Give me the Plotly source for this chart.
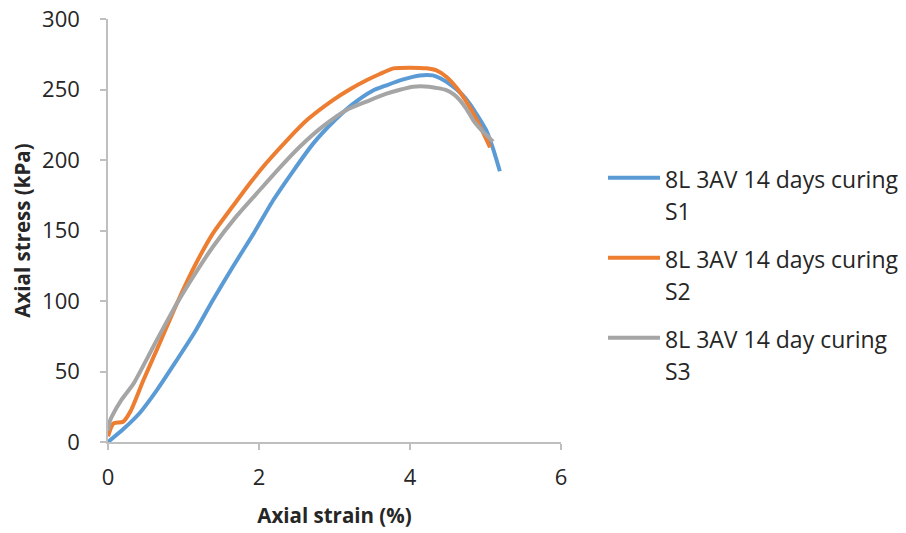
import plotly.graph_objects as go

# Series data (strain %, stress kPa)
s1_strain = [0.0, 0.20, 0.42, 0.65, 0.91, 1.15, 1.39, 1.65, 1.93, 2.19, 2.45, 2.72, 3.00, 3.25, 3.50, 3.69, 3.90, 4.13, 4.30, 4.40, 4.55, 4.68, 4.79, 4.90, 5.01, 5.10, 5.19]
s1_stress = [0.0, 9.0, 20.6, 37.0, 58.0, 78.0, 100.7, 124.0, 148.0, 171.6, 192.0, 211.8, 228.0, 240.0, 249.0, 253.0, 257.0, 260.0, 260.0, 258.0, 253.0, 247.0, 240.0, 231.0, 221.0, 208.0, 192.0]

s2_strain = [0.0, 0.07, 0.20, 0.30, 0.47, 0.70, 0.91, 1.15, 1.39, 1.65, 1.88, 2.10, 2.37, 2.65, 2.98, 3.20, 3.43, 3.60, 3.78, 4.00, 4.22, 4.35, 4.48, 4.62, 4.75, 4.85, 4.93, 5.06]
s2_stress = [4.0, 13.0, 14.4, 22.0, 44.0, 72.0, 98.0, 125.0, 148.0, 167.0, 183.5, 198.0, 214.0, 229.0, 242.5, 250.0, 256.7, 261.0, 265.0, 265.5, 265.0, 263.5, 259.0, 251.0, 241.0, 232.0, 223.6, 209.0]

s3_strain = [0.0, 0.02, 0.05, 0.18, 0.34, 0.60, 0.91, 1.15, 1.39, 1.70, 2.01, 2.30, 2.54, 2.85, 3.16, 3.45, 3.69, 3.88, 4.04, 4.25, 4.48, 4.58, 4.66, 4.75, 4.84, 4.95, 5.10]
s3_stress = [8.0, 14.0, 18.0, 30.0, 41.6, 67.6, 98.0, 119.0, 138.5, 160.0, 178.7, 196.0, 209.4, 224.0, 235.5, 242.0, 247.0, 250.0, 252.0, 252.0, 249.6, 246.5, 242.5, 236.0, 228.0, 221.0, 213.0]

series_names = ["8L 3AV 14 days curing", "8L 3AV 14 days curing", "8L 3AV 14 day curing"]
series_tags = ["S1", "S2", "S3"]
series_colors = ["#5B9BD5", "#ED7D31", "#A5A5A5"]

x_ticks = [0, 2, 4, 6]
y_ticks = [0, 50, 100, 150, 200, 250, 300]

FONT = "Open Sans"
TXT = "#262626"
AX = "#BFBFBF"
TICK_FS = 22
TITLE_FS = 20.5
LEG_FS = 23

fig = go.Figure()
for i, (xs, ys) in enumerate([(s1_strain, s1_stress), (s2_strain, s2_stress), (s3_strain, s3_stress)]):
    label = (f"<span style='font-size:{LEG_FS}px'>{series_names[i]}</span><br>"
             f"<span style='font-size:{LEG_FS}px'>{series_tags[i]}</span>")
    fig.add_trace(go.Scatter(
        x=xs, y=ys, mode="lines", name=label,
        line=dict(color=series_colors[i], width=4, shape="spline", smoothing=0.6),
        legendgroup=f"g{i}",
    ))

W, H = 898, 525  # page has an 8px body margin
fig.update_layout(
    width=W, height=H,
    margin=dict(l=100, r=W - 553, t=11, b=H - 434),
    paper_bgcolor="white", plot_bgcolor="white",
    font=dict(family=FONT, size=TICK_FS, color=TXT),
    showlegend=True,
    legend=dict(
        xref="container", yref="container",
        x=595 / W, y=1 - 147 / H, xanchor="left", yanchor="top",
        font=dict(family=FONT, size=25, color=TXT),
        traceorder="grouped", tracegroupgap=12, valign="top",
        itemwidth=52,
        bgcolor="rgba(0,0,0,0)",
    ),
    xaxis=dict(
        range=[0, 6], tickvals=x_ticks, showgrid=False, zeroline=False,
        showline=True, linecolor=AX, linewidth=1.5, automargin=False,
        ticks="outside", ticklen=6, tickcolor=AX, tickwidth=1.5,
        ticklabelstandoff=9, ticklabeloverflow="allow",
        tickfont=dict(family=FONT, size=TICK_FS, color=TXT),
        title=dict(text="<b>Axial strain (%)</b>", font=dict(family=FONT, size=TITLE_FS, color=TXT), standoff=18),
    ),
    yaxis=dict(
        range=[0, 300], tickvals=y_ticks, showgrid=False, zeroline=False,
        showline=True, linecolor=AX, linewidth=1.5, automargin=False,
        ticks="outside", ticklen=6, tickcolor=AX, tickwidth=1.5,
        ticklabelstandoff=16, ticklabeloverflow="allow",
        tickfont=dict(family=FONT, size=TICK_FS, color=TXT),
        title=dict(text="<b>Axial stress (kPa)</b>", font=dict(family=FONT, size=TITLE_FS, color=TXT), standoff=7),
    ),
)

fig.write_html("out.html")
